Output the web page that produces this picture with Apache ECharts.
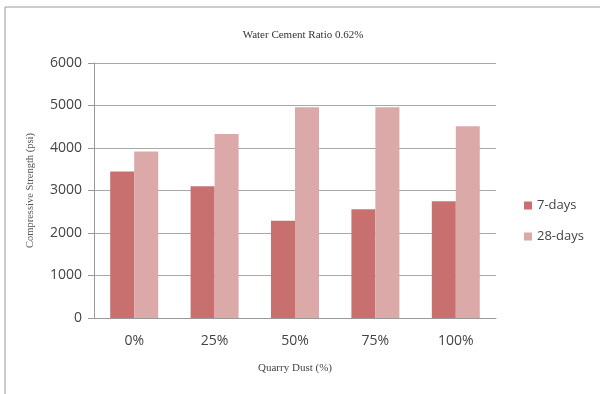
<!DOCTYPE html>
<html>
<head>
<meta charset="utf-8">
<script src="https://cdn.jsdelivr.net/npm/echarts@6/dist/echarts.min.js"></script>
<style>
  html, body { margin: 0; padding: 0; background: #fff; }
  #chart { width: 600px; height: 394px; }
</style>
</head>
<body>
<div id="chart"></div>
<script>
// data
const categories = ['0%', '25%', '50%', '75%', '100%'];
const days7 = [3450, 3100, 2290, 2560, 2750];
const days28 = [3920, 4330, 4960, 4960, 4510];
const yTicks = { min: 0, max: 6000, interval: 1000 };

const chart = echarts.init(document.getElementById('chart'));

const numFont = '"Open Sans", "Liberation Sans", sans-serif';
const serifFont = '"Liberation Serif", "DejaVu Serif", serif';

chart.setOption({
  animation: false,
  backgroundColor: '#fff',
  graphic: [{
    type: 'rect',
    shape: { x: 5, y: 7, width: 620, height: 420 },
    style: { fill: 'none', stroke: '#9a9a9a', lineWidth: 1 },
    silent: true
  }],
  title: {
    text: 'Water Cement Ratio 0.62%',
    left: 298,
    top: 25,
    textAlign: 'center',
    textStyle: { fontFamily: serifFont, fontSize: 11, fontWeight: 'normal', color: '#333' }
  },
  legend: {
    orient: 'vertical',
    left: 519,
    top: 194,
    itemWidth: 8,
    itemHeight: 8,
    itemGap: 18,
    icon: 'rect',
    textStyle: { fontFamily: numFont, fontSize: 13, color: '#444' },
    data: ['7-days', '28-days']
  },
  grid: { left: 94, right: 104, top: 63, bottom: 76 },
  xAxis: {
    type: 'category',
    data: categories,
    name: 'Quarry Dust (%)',
    nameLocation: 'middle',
    nameGap: 45,
    nameTextStyle: { fontFamily: serifFont, fontSize: 11, color: '#444' },
    axisLine: { lineStyle: { color: '#999' } },
    axisTick: { show: false },
    axisLabel: { fontFamily: numFont, fontSize: 14, color: '#444', margin: 16 }
  },
  yAxis: {
    type: 'value',
    min: yTicks.min,
    max: yTicks.max,
    interval: yTicks.interval,
    name: 'Compressive Strength (psi)',
    nameLocation: 'middle',
    nameGap: 58,
    nameTextStyle: { fontFamily: serifFont, fontSize: 10.5, color: '#555' },
    axisLine: { show: true, lineStyle: { color: '#999' } },
    axisTick: { show: true, length: 6, lineStyle: { color: '#999' } },
    axisLabel: {
      fontFamily: numFont, fontSize: 14, color: '#444', margin: 12,
      formatter: (v) => String(v)
    },
    splitLine: { lineStyle: { color: '#a8a8a8' } }
  },
  series: [
    {
      name: '7-days',
      type: 'bar',
      data: days7,
      barWidth: 24,
      barGap: '0%',
      itemStyle: { color: '#c8706f' }
    },
    {
      name: '28-days',
      type: 'bar',
      data: days28,
      barWidth: 24,
      barGap: '0%',
      itemStyle: { color: '#dba9a8' }
    }
  ]
});
</script>
</body>
</html>
